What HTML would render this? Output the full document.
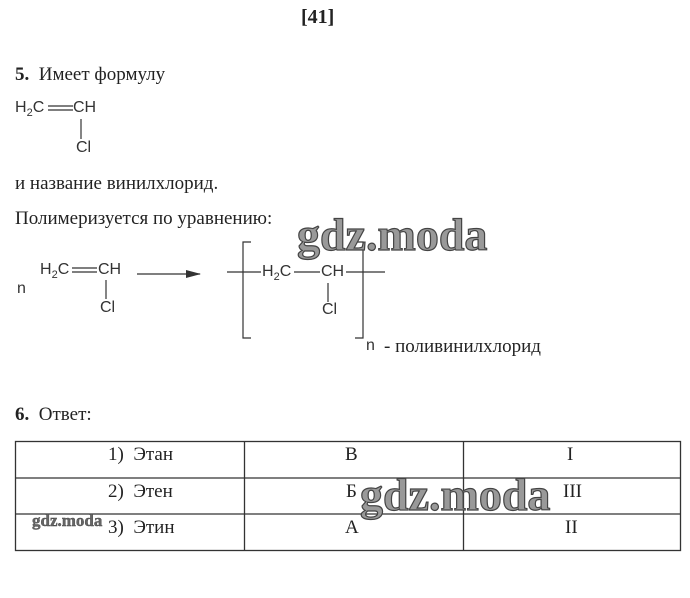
<!DOCTYPE html>
<html><head><meta charset="utf-8"><style>
body{margin:0;width:690px;height:598px;background:#fff;position:relative;overflow:hidden;font-family:"Liberation Serif",serif;color:#222}
.t{position:absolute;white-space:nowrap;font-size:19px}
.s{position:absolute;white-space:nowrap;font-family:"Liberation Sans",sans-serif;font-size:16px;color:#333;line-height:18px}
.wm{position:absolute;font-family:"Liberation Serif",serif;font-weight:bold;color:#999;white-space:nowrap;-webkit-text-stroke:1.2px #444;line-height:1}
sub{font-size:11px;line-height:0}
</style></head><body>
<div class="t" style="left:301px;top:6px;font-weight:bold;font-size:20px">[41]</div>
<div class="t" style="left:15px;top:64px"><b>5.</b>&nbsp; Имеет формулу</div>
<div class="s" style="left:15px;top:99px">H<sub>2</sub>C</div>
<div class="s" style="left:73px;top:99px">CH</div>
<div class="s" style="left:76px;top:139px">Cl</div>
<div class="t" style="left:15px;top:173px">и название винилхлорид.</div>
<div class="t" style="left:15px;top:208px">Полимеризуется по уравнению:</div>
<div class="s" style="left:40px;top:261px">H<sub>2</sub>C</div>
<div class="s" style="left:98px;top:261px">CH</div>
<div class="s" style="left:100px;top:299px">Cl</div>
<div class="s" style="left:17px;top:280px">n</div>
<div class="s" style="left:262px;top:263px">H<sub>2</sub>C</div>
<div class="s" style="left:321px;top:263px">CH</div>
<div class="s" style="left:322px;top:301px">Cl</div>
<div class="s" style="left:366px;top:337px">n</div>
<div class="t" style="left:384px;top:336px">- поливинилхлорид</div>
<svg style="position:absolute;left:0;top:0" width="690" height="598">
<g stroke="#333" stroke-width="1.2" fill="none">
<line x1="48" y1="106" x2="73" y2="106"/><line x1="48" y1="110" x2="73" y2="110"/>
<line x1="81" y1="119" x2="81" y2="139"/>
<line x1="72" y1="268" x2="97" y2="268"/><line x1="72" y1="272" x2="97" y2="272"/>
<line x1="106" y1="280" x2="106" y2="299"/>
<line x1="137" y1="274" x2="200" y2="274"/>
<line x1="227" y1="272" x2="261" y2="272"/><line x1="294" y1="272" x2="320" y2="272"/><line x1="346" y1="272" x2="385" y2="272"/>
<line x1="328" y1="283" x2="328" y2="302"/>
<path d="M251 242 H243 V338 H251"/><path d="M355 242 H363 V338 H355"/>
</g>
<path d="M186 270 L201 274 L186 278 Z" fill="#333"/>
<g stroke="#333" stroke-width="1.3" fill="none">
<rect x="15.5" y="441.5" width="665" height="109"/>
<line x1="15" y1="478" x2="681" y2="478"/><line x1="15" y1="514" x2="681" y2="514"/>
<line x1="244.5" y1="441" x2="244.5" y2="551"/><line x1="463.5" y1="441" x2="463.5" y2="551"/>
</g>
</svg>
<div class="t" style="left:15px;top:404px"><b>6.</b>&nbsp; Ответ:</div>
<div class="t" style="left:108px;top:444px">1)&nbsp; Этан</div>
<div class="t" style="left:108px;top:481px">2)&nbsp; Этен</div>
<div class="t" style="left:108px;top:517px">3)&nbsp; Этин</div>
<div class="t" style="left:345px;top:444px">В</div>
<div class="t" style="left:346px;top:481px">Б</div>
<div class="t" style="left:345px;top:517px">А</div>
<div class="t" style="left:567px;top:444px">I</div>
<div class="t" style="left:563px;top:481px">III</div>
<div class="t" style="left:565px;top:517px">II</div>
<div class="wm" style="left:297px;top:212px;font-size:46px">gdz.moda</div>
<div class="wm" style="left:360px;top:472px;font-size:46px">gdz.moda</div>
<div class="wm" style="left:32px;top:512px;font-size:17px;-webkit-text-stroke:0.4px #444;color:#666">gdz.moda</div>
</body></html>
